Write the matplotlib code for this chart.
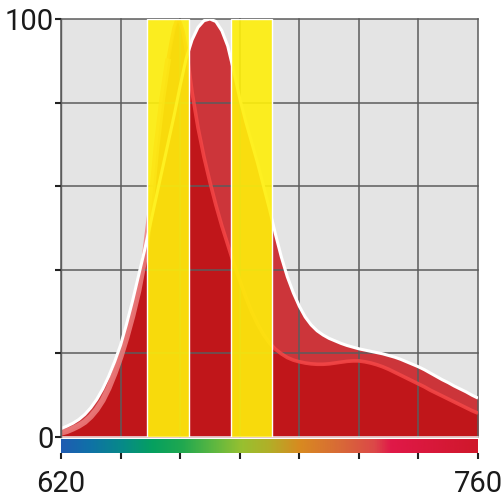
import numpy as np
import matplotlib
matplotlib.use("Agg")
import matplotlib.pyplot as plt
from matplotlib.colors import LinearSegmentedColormap

plt.rcParams['font.family'] = ['Roboto', 'DejaVu Sans']

# ---- data ----
outer_wl = [620, 622, 624, 626, 628, 630, 632, 634, 636, 638, 640, 642, 644, 646, 648,
            650, 652, 654, 656, 658, 660, 662, 664, 666, 668, 670, 672, 674, 676, 678,
            680, 682, 684, 686, 688, 690, 692, 694, 696, 698, 700, 702, 704, 706, 708,
            710, 712, 714, 716, 718, 720, 722, 724, 726, 728, 730, 732, 734, 736, 738,
            740, 742, 744, 746, 748, 750, 752, 754, 756, 758, 760]
outer_val = [2.0, 2.6, 3.3, 4.2, 5.4, 7.0, 9.0, 11.5, 14.5, 18.0, 22.0, 27.0, 32.5, 38.5, 44.5,
             51.0, 57.5, 64.0, 70.5, 77.0, 84.0, 90.5, 95.0, 98.0, 99.6, 100.0, 99.4, 97.2, 93.5, 87.5,
             81.0, 75.5, 70.5, 65.5, 60.0, 54.5, 48.5, 43.0, 38.3, 34.5, 31.3, 28.7, 26.8, 25.4, 24.4,
             23.6, 23.0, 22.4, 21.9, 21.5, 21.1, 20.8, 20.5, 20.2, 19.9, 19.5, 19.1, 18.6, 18.0, 17.4,
             16.8, 16.1, 15.3, 14.5, 13.7, 13.0, 12.2, 11.5, 10.8, 10.0, 9.3]

inner_wl = [620, 622, 624, 626, 628, 630, 632, 634, 636, 638, 640, 642, 644, 646, 648,
            650, 652, 654, 656, 657, 658, 659, 660, 661, 662, 663, 664, 666, 668, 670,
            672, 674, 676, 678, 680, 682, 684, 686, 688, 690, 692, 694, 696, 698, 700,
            702, 704, 706, 708, 710, 712, 714, 716, 718, 720, 722, 724, 726, 728, 730,
            732, 734, 736, 738, 740, 742, 744, 746, 748, 750, 752, 754, 756, 758, 760]
inner_val = [1.0, 1.4, 2.0, 2.7, 3.6, 4.9, 6.6, 8.8, 11.7, 15.2, 19.2, 23.8, 29.0, 35.0, 42.5,
             54.0, 69.0, 81.0, 90.5, 94.5, 98.0, 100.0, 99.2, 97.0, 93.0, 88.0, 82.5, 74.0, 67.0, 61.0,
             55.5, 50.5, 46.0, 41.5, 37.5, 33.5, 30.0, 27.0, 24.5, 22.5, 21.0, 19.9, 19.0, 18.4, 18.0,
             17.7, 17.5, 17.4, 17.4, 17.5, 17.7, 17.9, 18.1, 18.2, 18.2, 18.0, 17.7, 17.3, 16.8, 16.2,
             15.5, 14.8, 14.1, 13.4, 12.7, 12.0, 11.2, 10.5, 9.8, 9.1, 8.4, 7.7, 7.0, 6.3, 5.7]

bands = [(649, 663), (677, 691)]

spectrum_wl = [620, 629, 640.5, 650.5, 660.6, 671.7, 680.8, 689.5, 700.2, 714.3, 725.4, 731.1, 759, 760]
spectrum_col = ['#1f5cb2', '#1070a8', '#078a88', '#05a060', '#20a850', '#60b840', '#98c030',
                '#b0b028', '#d88a20', '#d86838', '#dc4848', '#e01848', '#d0182c', '#d0182c']

x_ticks = [620, 640, 660, 680, 700, 720, 740, 760]
x_labels = ['620', '', '', '', '', '', '', '760']
y_ticks = [0, 20, 40, 60, 80, 100]
y_labels = ['0', '', '', '', '', '100']

# ---- figure ----
W = 504
fig = plt.figure(figsize=(5.04, 5.04), dpi=100)
ax = fig.add_axes([61 / W, (W - 437) / W, 417 / W, 418 / W])
cax = fig.add_axes([61 / W, (W - 453) / W, 417 / W, 14.5 / W])

ax.set_facecolor('#e4e4e4')
ax.set_xlim(620, 760)
ax.set_ylim(0, 100)

ax.fill_between(outer_wl, outer_val, 0, color='#c8161c', alpha=0.85, lw=0, zorder=1)
ax.fill_between(inner_wl, inner_val, 0, color='#c0161a', lw=0, zorder=1.1)

ax.set_axisbelow('line')
ax.set_xticks(x_ticks)
ax.set_yticks(y_ticks)
ax.set_yticklabels(y_labels)
ax.grid(True, color='#5c5c5c', lw=1.1)
for gl in ax.get_xgridlines() + ax.get_ygridlines():
    gl.set_clip_on(False)
ax.get_ygridlines()[0].set_color('#ececec')

# inner curve outline: pale on the rising flank, bright red elsewhere (split hidden by band)
split = inner_wl.index(656)
ax.plot(inner_wl[:split + 1], inner_val[:split + 1], color=(0.93, 0.5, 0.5), alpha=0.85,
        lw=4.2, zorder=2, solid_capstyle='butt', solid_joinstyle='round')
ax.plot(inner_wl[split:], inner_val[split:], color=(0.96, 0.28, 0.28), alpha=0.85,
        lw=2.6, zorder=2, solid_capstyle='butt', solid_joinstyle='round')
ax.plot(outer_wl, outer_val, color='white', lw=2.2, zorder=2.2, solid_capstyle='butt',
        solid_joinstyle='round')

ylw = (254 / 255, 239 / 255, 11 / 255, 0.91)
for a, b in bands:
    ax.axvspan(a, b, facecolor=ylw, edgecolor='white', lw=1.0, zorder=3)

ax.tick_params(axis='x', length=0, labelbottom=False)
ax.tick_params(axis='y', length=4.5, width=1.5, color='#222222', pad=1,
               labelsize=21, labelcolor='#1a1a1a')
for s in ['top', 'right', 'bottom']:
    ax.spines[s].set_visible(False)
ax.spines['left'].set_color('#5c5c5c')
ax.spines['left'].set_linewidth(1.0)

# spectrum strip
cmap = LinearSegmentedColormap.from_list(
    'spec', [((w - 620) / 140, c) for w, c in zip(spectrum_wl, spectrum_col)])
grad = np.linspace(0, 1, 512).reshape(1, -1)
cax.imshow(grad, cmap=cmap, aspect='auto', extent=[620, 760, 0, 1])
cax.set_xlim(620, 760)
cax.set_ylim(0, 1)
cax.set_yticks([])
cax.set_xticks(x_ticks)
cax.set_xticklabels(x_labels)
cax.tick_params(axis='x', length=4.5, width=1.5, color='#222222', pad=8,
                labelsize=21, labelcolor='#1a1a1a')
for s in cax.spines.values():
    s.set_visible(False)

fig.savefig('out.png', dpi=100)
